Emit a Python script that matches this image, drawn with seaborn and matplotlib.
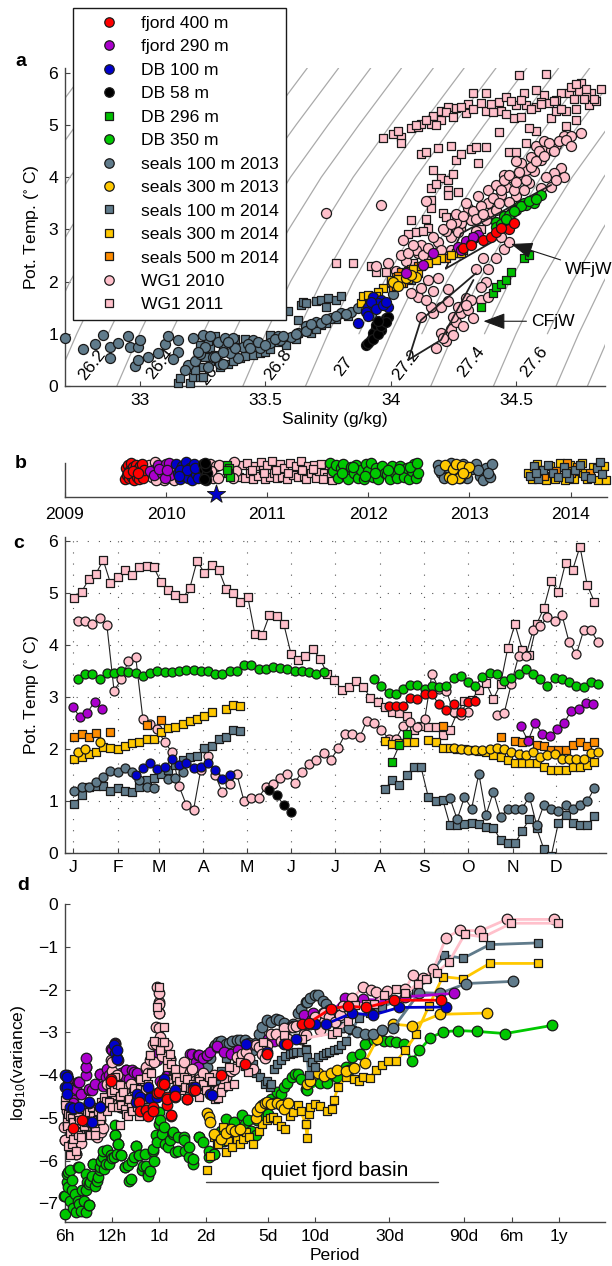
import numpy as np
import matplotlib
matplotlib.use('Agg')
import matplotlib.pyplot as plt
from matplotlib.lines import Line2D
import seaborn as sns

sns.set_theme(style='ticks')
plt.rcParams['font.family'] = ['Liberation Sans', 'DejaVu Sans']
plt.rcParams['mathtext.default'] = 'regular'
plt.rcParams['text.color'] = 'black'
plt.rcParams['axes.labelcolor'] = 'black'
plt.rcParams['axes.edgecolor'] = '#444444'
plt.rcParams['axes.linewidth'] = 1.0
plt.rcParams['xtick.color'] = '#444444'
plt.rcParams['ytick.color'] = '#444444'
plt.rcParams['xtick.labelcolor'] = 'black'
plt.rcParams['ytick.labelcolor'] = 'black'

W, H = 612, 1266
FS = 12.6

# series names, in legend order
names = ['fjord 400 m', 'fjord 290 m', 'DB 100 m', 'DB 58 m', 'DB 296 m', 'DB 350 m',
         'seals 100 m 2013', 'seals 300 m 2013', 'seals 100 m 2014', 'seals 300 m 2014',
         'seals 500 m 2014', 'WG1 2010', 'WG1 2011']
colors = ['#ff0000', '#aa00cc', '#0000cc', '#000000', '#00c000', '#00c800',
          '#607b8b', '#ffc800', '#607b8b', '#ffc800',
          '#ff8c00', '#ffc0cb', '#ffc0cb']
markers = ['o', 'o', 'o', 'o', 's', 'o', 'o', 'o', 's', 's', 's', 'o', 's']

# ---- panel a, salinity / temperature
a_sal = {}
a_tmp = {}
a_sal['WG1 2011'] = [33.97, 34.01, 34.04, 34.04, 34.08, 34.11, 34.12, 34.17, 34.16, 34.20, 34.23, 34.20, 34.26, 34.31,
                     34.30, 34.33, 34.38, 34.38, 34.40, 34.43, 34.44, 34.46, 34.49, 34.50, 34.51, 34.53, 34.54, 34.58,
                     34.58, 34.62, 34.61, 34.63, 34.64, 34.68, 34.66, 34.71, 34.70, 34.76, 34.75, 34.74, 34.80, 34.84,
                     34.79, 34.74, 34.70, 34.58, 34.55, 34.43, 34.12, 34.14, 34.19, 34.24, 34.32, 34.34, 34.38, 34.47,
                     34.50, 34.54, 34.26, 34.28, 34.35, 34.17, 34.20, 34.23, 34.25, 34.16, 34.18, 34.23, 34.27, 34.23,
                     34.16, 34.16, 34.21, 34.22, 34.08, 34.14, 34.15, 34.10, 34.07, 34.13, 34.23, 33.78, 33.85, 33.92,
                     33.94, 33.98, 34.09, 34.19, 34.28, 34.24, 34.36, 34.33, 34.72, 34.78, 34.82, 34.66, 34.60, 34.52,
                     34.03, 34.10, 34.14, 34.18, 34.22, 34.25, 34.28, 34.33, 34.36, 34.41, 34.46, 34.48, 34.52, 34.56,
                     34.60, 34.65, 34.68, 34.73, 34.77, 34.81, 34.78, 34.74]
a_tmp['WG1 2011'] = [4.74, 4.83, 4.76, 4.65, 4.94, 4.96, 5.02, 5.17, 5.02, 5.27, 5.35, 5.10, 5.32, 5.41,
                     5.22, 5.62, 5.61, 5.27, 5.40, 5.43, 5.26, 5.54, 5.14, 5.38, 5.95, 5.62, 5.38, 5.66,
                     5.35, 5.97, 5.57, 5.42, 5.13, 5.61, 5.26, 5.62, 5.26, 5.80, 5.64, 5.30, 5.61, 5.68,
                     5.38, 5.10, 4.97, 4.89, 4.94, 4.87, 4.44, 4.49, 4.55, 4.60, 4.54, 4.58, 4.57, 4.49,
                     4.49, 4.65, 4.33, 4.44, 4.28, 4.13, 3.98, 3.95, 4.06, 3.79, 3.86, 3.75, 3.72, 3.66,
                     3.56, 3.40, 3.31, 3.24, 3.18, 3.20, 3.02, 2.94, 2.92, 2.96, 2.96, 2.35, 2.36, 2.29,
                     2.19, 2.19, 2.35, 2.48, 3.05, 3.10, 3.00, 2.85, 5.72, 5.55, 5.45, 5.47, 5.44, 5.48,
                     4.88, 5.00, 5.10, 5.00, 5.25, 5.15, 5.35, 5.30, 5.42, 5.25, 5.20, 5.45, 5.15, 5.30,
                     5.40, 5.45, 5.30, 5.50, 5.50, 5.50, 5.68, 5.78]
a_sal['WG1 2010'] = [33.74, 33.96, 34.18, 34.22, 34.20, 34.24, 34.26, 34.25, 34.28, 34.31, 34.27, 34.30, 34.36, 34.32,
                     34.39, 34.12, 34.17, 34.20, 34.23, 34.16, 34.11, 34.14, 34.08, 34.12, 34.17, 34.23, 34.19, 34.15,
                     34.34, 34.39, 34.38, 34.42, 34.37, 34.45, 34.47, 34.44, 33.99, 33.94, 34.06, 34.11, 34.05, 34.19,
                     34.12, 34.14, 34.24, 34.28, 34.32, 34.35, 34.31, 34.39, 34.40, 34.39, 34.42, 34.45, 34.48, 34.52,
                     34.46, 34.50, 34.55, 34.57, 34.54, 34.52, 34.56, 34.60, 34.62, 34.64, 34.66, 34.69, 34.72, 34.76,
                     34.68, 34.65, 34.69, 34.64, 34.47, 34.42, 34.38, 34.34, 34.26, 34.22, 34.14, 34.21, 34.25, 34.29,
                     34.33, 34.36, 34.30, 34.24, 34.18, 34.10, 34.58, 34.61, 34.50, 34.44,
                     34.02, 34.04, 34.07, 34.09, 34.13, 34.15, 34.17, 34.20, 34.21, 34.24, 34.26, 34.27, 34.29, 34.30,
                     34.33, 34.34, 34.36, 34.37, 34.41, 34.43, 34.44, 34.45, 34.47, 34.49, 34.50, 34.51, 34.53, 34.54,
                     34.56, 34.58, 34.59, 34.61, 34.63, 34.65, 34.67, 34.70, 34.72, 34.62, 34.66, 34.60]
a_tmp['WG1 2010'] = [3.32, 3.47, 0.73, 0.87, 1.01, 1.10, 1.23, 1.33, 1.39, 1.46, 1.52, 1.68, 1.65, 1.65,
                     1.71, 1.33, 1.39, 1.52, 1.62, 1.52, 1.71, 1.65, 1.78, 1.87, 1.81, 1.85, 2.06, 2.03,
                     2.25, 2.25, 2.00, 2.46, 2.45, 2.62, 2.76, 2.86, 2.35, 2.30, 2.40, 2.54, 2.80, 2.76,
                     2.70, 2.41, 2.86, 3.12, 3.18, 3.63, 3.40, 3.50, 3.31, 3.75, 3.85, 4.04, 4.00, 3.98,
                     3.81, 3.63, 3.88, 4.11, 4.14, 4.27, 4.39, 4.33, 4.55, 4.52, 4.62, 4.78, 4.79, 4.84,
                     4.17, 4.07, 4.01, 3.82, 3.53, 3.37, 3.18, 2.96, 3.15, 2.96, 3.54, 0.92, 0.98, 1.15,
                     1.30, 1.90, 1.55, 2.60, 2.55, 2.60, 4.60, 4.70, 4.30, 3.65,
                     2.20, 2.50, 2.55, 2.70, 2.50, 2.65, 2.85, 2.60, 3.00, 3.10, 3.30, 2.95, 3.25, 3.50,
                     3.35, 3.20, 3.45, 3.30, 3.60, 3.50, 3.75, 3.95, 4.05, 3.75, 3.90, 4.10, 3.75, 3.95,
                     4.20, 4.30, 4.50, 4.40, 4.65, 4.50, 4.70, 4.72, 4.60, 4.00, 3.95, 3.80]
a_sal['seals 100 m 2013'] = [32.70, 32.77, 32.82, 32.85, 32.88, 32.91, 32.88, 32.95, 32.96, 32.99, 33.00, 32.98, 32.99,
                             33.03, 33.07, 33.10, 33.11, 33.15, 33.15, 33.13, 33.21, 33.19, 33.22, 33.25, 33.31, 33.34,
                             33.37, 33.39, 33.36, 33.41, 33.45, 33.52, 33.56, 33.60, 33.66, 33.27, 33.32, 33.66, 33.70,
                             33.76, 33.80, 33.84, 33.87, 33.92, 34.01, 33.18, 33.24, 33.29, 33.43, 33.48, 33.55, 33.63,
                             33.30, 33.33, 33.38, 33.44, 33.47, 33.50, 33.54, 33.57, 33.62, 33.66, 33.68, 33.72, 33.74, 33.78,
                             33.82, 33.26, 33.28, 33.35, 33.23, 33.33]
a_tmp['seals 100 m 2013'] = [0.91, 0.70, 0.80, 0.98, 0.75, 0.82, 0.53, 0.95, 0.74, 0.75, 0.89, 0.38, 0.50,
                             0.56, 0.64, 0.80, 0.95, 0.88, 0.66, 0.51, 0.91, 0.40, 0.47, 0.98, 0.85, 0.91,
                             0.91, 0.53, 0.63, 0.75, 0.88, 0.82, 0.88, 0.93, 1.14, 0.37, 0.42, 1.14, 1.23,
                             1.30, 1.39, 1.42, 1.49, 1.36, 1.77, 0.30, 0.62, 0.55, 0.80, 0.72, 0.95, 1.02,
                             0.55, 0.65, 0.72, 0.72, 0.85, 0.78, 0.90, 0.95, 1.00, 1.05, 1.18, 1.20, 1.28, 1.35,
                             1.38, 0.75, 0.95, 0.85, 0.65, 0.42]
a_sal['seals 100 m 2014'] = [33.15, 33.16, 33.20, 33.21, 33.24, 33.25, 33.25, 33.28, 33.28, 33.24, 33.27, 33.32, 33.35,
                             33.37, 33.40, 33.45, 33.48, 33.50, 33.52, 33.55, 33.59, 33.63, 33.63, 33.64, 33.65, 33.66,
                             33.70, 33.72, 33.75, 33.78, 33.80, 33.74, 33.68, 33.72, 33.76, 34.08, 34.00, 33.30, 33.42,
                             33.42, 33.52, 33.58, 33.62, 33.66, 33.70, 33.74, 33.78, 33.30, 33.33, 33.38, 33.46, 33.26, 33.22, 33.83]
a_tmp['seals 100 m 2014'] = [0.05, 0.16, 0.06, 0.18, 0.18, 0.18, 0.37, 0.47, 0.72, 0.79, 0.87, 0.37, 0.43,
                             0.47, 0.53, 0.59, 0.63, 0.66, 0.98, 0.85, 1.44, 1.26, 1.01, 1.55, 1.60, 1.58,
                             1.62, 1.65, 1.68, 1.65, 1.73, 1.51, 1.01, 1.17, 1.30, 2.03, 1.97, 0.60, 0.90,
                             0.58, 0.70, 0.78, 0.90, 1.05, 1.10, 1.20, 1.28, 0.95, 0.80, 0.90, 0.82, 0.55, 0.30, 1.35]
a_sal['seals 300 m 2014'] = [33.90, 33.88, 33.92, 33.97, 34.00, 34.04, 34.06, 34.11, 34.20, 34.26, 34.33, 34.29, 33.95, 34.02,
                             33.89, 33.91, 33.94, 34.03, 34.07, 34.09, 34.12, 34.15, 34.18, 34.24, 34.31, 34.28]
a_tmp['seals 300 m 2014'] = [1.65, 1.58, 1.50, 1.87, 2.03, 1.97, 2.16, 2.16, 2.45, 2.54, 2.83, 2.60, 1.80, 1.92,
                             1.72, 1.75, 1.72, 2.05, 2.05, 2.25, 2.30, 2.35, 2.42, 2.50, 2.72, 2.55]
a_sal['seals 500 m 2014'] = [34.02, 34.04, 34.08, 34.22, 34.05, 34.01, 34.10, 34.24, 34.00, 34.03, 34.06, 34.07, 34.11, 34.02, 34.26]
a_tmp['seals 500 m 2014'] = [2.09, 2.19, 2.25, 2.45, 1.97, 1.90, 2.20, 2.50, 2.00, 2.10, 2.10, 2.20, 2.30, 1.93, 2.55]
a_sal['seals 300 m 2013'] = [34.01, 34.06, 34.10, 34.03, 33.90, 33.93, 34.08]
a_tmp['seals 300 m 2013'] = [2.00, 2.06, 2.09, 1.92, 1.45, 1.62, 2.12]
a_sal['DB 296 m'] = [34.36, 34.41, 34.42, 34.44, 34.46, 34.48, 34.53, 34.55]
a_tmp['DB 296 m'] = [1.52, 1.79, 1.90, 1.95, 2.03, 2.19, 2.46, 2.51]
a_sal['DB 350 m'] = [34.42, 34.45, 34.51, 34.53, 34.56, 34.60, 34.48, 34.42, 34.54, 34.57, 34.50, 34.47,
                     34.44, 34.46, 34.52, 34.55, 34.58, 34.49]
a_tmp['DB 350 m'] = [3.15, 3.26, 3.44, 3.50, 3.53, 3.66, 3.31, 3.05, 3.47, 3.50, 3.38, 3.28,
                     3.10, 3.20, 3.45, 3.55, 3.58, 3.35]
a_sal['DB 58 m'] = [33.90, 33.92, 33.93, 33.94, 33.96, 33.98, 33.99, 33.93, 33.94, 33.97, 33.91, 33.93, 33.95, 33.96, 33.98, 33.95]
a_tmp['DB 58 m'] = [0.79, 0.88, 0.95, 1.12, 1.07, 1.30, 1.33, 1.02, 1.17, 1.20, 0.82, 0.90, 1.00, 1.15, 1.22, 1.25]
a_sal['DB 100 m'] = [33.87, 33.91, 33.93, 33.90, 33.96, 33.99, 33.95, 33.92, 33.94, 33.97, 33.91, 33.98]
a_tmp['DB 100 m'] = [1.21, 1.52, 1.70, 1.42, 1.65, 1.51, 1.58, 1.60, 1.48, 1.55, 1.35, 1.60]
a_sal['fjord 290 m'] = [34.06, 34.13, 34.27, 34.30, 34.32, 34.35, 34.28, 34.33, 34.17]
a_tmp['fjord 290 m'] = [2.16, 2.32, 2.67, 2.78, 2.72, 2.89, 2.60, 2.85, 2.55]
a_sal['fjord 400 m'] = [34.29, 34.32, 34.37, 34.40, 34.42, 34.47, 34.49, 34.44]
a_tmp['fjord 400 m'] = [2.64, 2.70, 2.80, 2.86, 2.94, 3.01, 3.12, 3.02]

# long jumps in the WG1 2010 line
jump_sal = [34.07, 34.12, 34.34, np.nan, 34.07, 34.20, 34.33, np.nan, 34.22, 34.42, np.nan, 34.22, 34.28, 34.64]
jump_tmp = [0.50, 1.26, 2.16, np.nan, 0.50, 0.88, 2.03, np.nan, 2.25, 2.80, np.nan, 2.25, 2.92, 3.85]

# isopycnals: salinity where each crosses 0 deg, and how far it leans with temperature
iso_level = ['25.5', '25.6', '25.7', '25.8', '25.9', '26', '26.1', '26.2', '26.3', '26.4', '26.5', '26.6', '26.7',
             '26.8', '26.9', '27', '27.1', '27.2', '27.3', '27.4', '27.5', '27.6', '27.7', '27.8']
iso_sal0 = [31.90, 32.03, 32.155, 32.28, 32.41, 32.53, 32.657, 32.782, 32.907, 33.032, 33.16, 33.283, 33.41,
            33.533, 33.66, 33.783, 33.91, 34.034, 34.16, 34.284, 34.41, 34.535, 34.66, 34.785]
iso_tmp = [0, 1, 2, 3, 4, 5, 6.09]
iso_lean = [0, 0.09, 0.19, 0.31, 0.44, 0.59, 0.76]
iso_lab = ['26.2', '26.4', '26.6', '26.8', '27', '27.2', '27.4', '27.6']
iso_lab_sal = [32.81, 33.08, 33.29, 33.55, 33.81, 34.06, 34.32, 34.57]
iso_lab_tmp = [0.40, 0.43, 0.31, 0.40, 0.37, 0.40, 0.47, 0.47]

# ---- panel b, time coverage
b_yr = {}
b_y = {}
b_yr['fjord 400 m'] = [2009.59, 2009.60, 2009.61, 2009.62, 2009.63, 2009.64, 2009.65, 2009.66, 2009.67, 2009.68, 2009.69, 2009.70,
                       2009.71, 2009.72, 2009.73, 2009.74, 2009.75, 2009.76, 2009.77, 2009.78, 2009.62, 2009.67, 2009.72]
b_y['fjord 400 m'] = [0.52, 0.85, 0.65, 0.95, 0.55, 0.78, 1.00, 0.60, 0.88, 0.50, 0.72, 0.95,
                      0.58, 0.82, 0.52, 0.90, 0.68, 0.97, 0.55, 0.78, 0.70, 0.75, 0.70]
b_yr['WG1 2010'] = [2009.83, 2009.86, 2009.89, 2009.92, 2009.95, 2009.98, 2010.02, 2010.05, 2009.88, 2009.94, 2010.08, 2009.90,
                    2010.27, 2010.43, 2010.46, 2010.49, 2010.52, 2010.44, 2010.51, 2010.67, 2010.69, 2010.66, 2009.99, 2010.13]
b_y['WG1 2010'] = [0.95, 0.60, 1.02, 0.52, 0.90, 0.50, 0.98, 0.55, 0.80, 0.75, 0.50, 0.50,
                   0.75, 0.98, 0.55, 0.90, 0.95, 0.75, 0.55, 1.02, 0.75, 0.55, 0.72, 0.70]
b_yr['fjord 290 m'] = [2009.84, 2009.88, 2009.92, 2009.96, 2010.00, 2010.03, 2010.04, 2009.93, 2009.99, 2010.01]
b_y['fjord 290 m'] = [0.75, 0.65, 0.95, 0.70, 0.98, 1.00, 0.65, 0.82, 0.55, 0.80]
b_yr['DB 100 m'] = [2010.10, 2010.12, 2010.14, 2010.16, 2010.18, 2010.20, 2010.22, 2010.24, 2010.26, 2010.28, 2010.30, 2010.32, 2010.14, 2010.21, 2010.29, 2010.13]
b_y['DB 100 m'] = [0.98, 0.70, 0.52, 0.90, 0.62, 1.02, 0.55, 0.85, 0.50, 0.98, 0.68, 0.55, 0.80, 0.78, 0.85, 0.62]
b_yr['DB 58 m'] = [2010.36, 2010.37, 2010.38, 2010.39, 2010.40, 2010.39, 2010.38, 2010.37]
b_y['DB 58 m'] = [0.98, 0.78, 0.60, 0.50, 0.70, 0.88, 1.00, 0.52]
b_yr['DB 296 m'] = [2010.60, 2010.62, 2010.61, 2010.63, 2010.60]
b_y['DB 296 m'] = [0.95, 0.85, 0.70, 0.58, 0.78]
b_yr['WG1 2011'] = [2010.72, 2010.75, 2010.78, 2010.80, 2010.83, 2010.86, 2010.88, 2010.91, 2010.94, 2010.96, 2010.98, 2011.00,
                    2011.03, 2011.05, 2011.07, 2011.10, 2011.13, 2011.15, 2011.17, 2011.20, 2011.23, 2011.25, 2011.28, 2011.30,
                    2011.33, 2011.36, 2011.38, 2011.40, 2011.43, 2011.46, 2011.48, 2011.51, 2011.53, 2011.56, 2011.59, 2011.61,
                    2011.64, 2010.85, 2010.97, 2011.09, 2011.21, 2011.34, 2011.45, 2011.55, 2011.63]
b_y['WG1 2011'] = [0.60, 0.95, 0.55, 1.00, 0.72, 0.52, 0.92, 0.62, 1.02, 0.78, 0.52, 0.95,
                   0.60, 1.05, 0.72, 0.55, 0.98, 0.60, 0.85, 0.52, 1.00, 0.65, 0.90, 0.58,
                   1.05, 0.62, 0.52, 0.90, 0.72, 0.95, 0.55, 0.75, 0.98, 0.70, 0.60, 0.95,
                   0.50, 0.80, 0.70, 0.80, 0.72, 0.80, 0.82, 0.52, 0.70]
b_yr['DB 350 m'] = [2011.62, 2011.65, 2011.68, 2011.70, 2011.73, 2011.75, 2011.78, 2011.80, 2011.83, 2011.86, 2011.88, 2011.90,
                    2011.93, 2011.96, 2011.98, 2012.00, 2012.03, 2012.05, 2012.08, 2012.10, 2012.13, 2012.16, 2012.18, 2012.21,
                    2012.23, 2012.26, 2012.28, 2012.31, 2012.33, 2012.35, 2012.38, 2012.40, 2012.43, 2012.45, 2012.47, 2012.49,
                    2011.74, 2011.85, 2011.97, 2012.07, 2012.19, 2012.30, 2012.41, 2012.48]
b_y['DB 350 m'] = [1.00, 0.75, 0.95, 0.55, 0.85, 0.98, 0.62, 0.52, 0.88, 0.70, 0.95, 0.55,
                   0.78, 0.52, 0.98, 0.75, 1.00, 0.58, 0.85, 0.52, 0.92, 0.72, 0.68, 0.52,
                   0.90, 0.70, 0.55, 0.92, 0.78, 0.60, 0.85, 0.52, 0.75, 0.98, 0.55, 0.70,
                   0.72, 0.88, 0.62, 0.72, 0.80, 0.82, 0.88, 1.00]
b_yr['seals 100 m 2013'] = [2012.69, 2012.72, 2012.75, 2012.78, 2012.82, 2012.86, 2012.89, 2012.94, 2012.98, 2013.02, 2013.06, 2013.10,
                            2013.13, 2013.16, 2013.20, 2013.22, 2012.70, 2012.91, 2013.08, 2013.18]
b_y['seals 100 m 2013'] = [0.95, 0.70, 0.55, 0.88, 1.00, 0.60, 0.78, 0.98, 0.55, 0.82, 0.98, 0.62,
                           0.50, 0.85, 0.58, 0.98, 0.80, 0.55, 0.80, 0.72]
b_yr['seals 300 m 2013'] = [2012.76, 2012.80, 2012.84, 2012.87, 2012.90, 2012.93, 2012.97, 2013.00, 2012.83, 2012.94]
b_y['seals 300 m 2013'] = [0.95, 0.60, 0.82, 0.98, 0.55, 0.90, 0.72, 0.88, 0.52, 0.70]
b_yr['seals 100 m 2014'] = [2013.60, 2013.64, 2013.68, 2013.73, 2013.78, 2013.83, 2013.88, 2013.93, 2013.98, 2014.04, 2014.09, 2014.14,
                            2014.20, 2014.26, 2014.31, 2014.29, 2013.66, 2013.95]
b_y['seals 100 m 2014'] = [0.62, 0.90, 0.52, 0.78, 0.95, 0.70, 0.60, 0.88, 0.55, 0.80, 0.95, 0.62,
                           0.55, 0.85, 0.68, 1.03, 0.72, 0.72]
b_yr['seals 300 m 2014'] = [2013.58, 2013.62, 2013.67, 2013.71, 2013.76, 2013.80, 2013.85, 2013.90, 2013.94, 2013.99, 2014.03, 2014.07,
                            2014.11, 2014.16, 2014.22, 2014.27, 2014.33, 2014.35, 2013.70, 2014.12]
b_y['seals 300 m 2014'] = [0.72, 0.52, 0.98, 0.60, 0.50, 0.92, 0.52, 1.00, 0.50, 0.95, 0.52, 0.78,
                           1.00, 0.52, 0.88, 0.50, 0.92, 0.50, 0.78, 0.72]
b_yr['seals 500 m 2014'] = [2013.74, 2013.86, 2013.96, 2014.00, 2014.06, 2014.19]
b_y['seals 500 m 2014'] = [0.62, 0.75, 1.00, 0.70, 0.88, 0.72]
b_order = ['WG1 2011', 'WG1 2010', 'DB 350 m', 'fjord 400 m', 'fjord 290 m', 'DB 100 m', 'DB 58 m', 'DB 296 m',
           'seals 100 m 2013', 'seals 300 m 2013', 'seals 300 m 2014', 'seals 500 m 2014', 'seals 100 m 2014']
star_year = 2010.49
year_ticks = [2009, 2010, 2011, 2012, 2013, 2014]

# ---- panel c, pentad of year / temperature
c_k = {}
c_t = {}
c_off = {'WG1 2010': 0.5, 'DB 350 m': 0.5, 'seals 300 m 2013': 0.5, 'fjord 400 m': 0.5, 'DB 100 m': 0.5, 'fjord 290 m': -0.2}
c_k['WG1 2011'] = [*range(0, 73)]
c_t['WG1 2011'] = [4.90, 5.02, 5.26, 5.37, 5.63, 5.19, 5.31, 5.44, 5.35, 5.49,
                   5.52, 5.49, 5.21, 5.06, 4.97, 4.90, 5.10, 5.62, 5.38, 5.53,
                   5.44, 5.08, 4.99, 4.83, 4.93, 4.21, 4.19, 4.57, 4.56, 4.40,
                   3.83, 3.71, 3.78, 3.92, 3.74, 3.45, 3.33, 3.14, 3.20, 3.30,
                   3.20, 2.98, 2.90, 2.80, 2.72, 2.69, 2.64, 2.37, 2.45, 2.43,
                   2.43, 2.27, 2.37, 2.70, 2.93, 2.95, 3.14, 3.28, 2.96, 3.25,
                   3.94, 4.40, 3.91, 3.80, 4.40, 4.71, 5.23, 5.01, 5.58, 5.45,
                   5.89, 5.15, 4.83]
c_k['WG1 2010'] = [*range(0, 55), *range(58, 73)]
c_t['WG1 2010'] = [4.46, 4.46, 4.40, 4.51, 4.39, 3.12, 3.34, 3.70, 3.77, 2.57,
                   2.48, 2.39, 2.13, 1.95, 1.29, 0.93, 0.83, 1.60, 1.86, 1.50,
                   1.17, 1.33, 1.52, 1.00, 1.07, 1.07, 1.27, 1.34, 1.44, 1.52,
                   1.35, 1.56, 1.71, 1.79, 1.93, 1.79, 2.02, 2.29, 2.30, 2.23,
                   2.55, 2.51, 2.37, 2.20, 2.19, 2.45, 2.52, 2.43, 2.57, 3.45,
                   3.15, 3.12, 2.72, 2.66, 2.71,
                   2.66, 2.69, 3.26, 3.79, 3.79, 4.28, 4.37, 4.53, 4.47, 4.58, 4.05, 3.82, 4.28, 4.28, 4.06]
c_k['seals 100 m 2014'] = [*range(0, 24), *range(43, 73)]
c_t['seals 100 m 2014'] = [0.94, 1.12, 1.27, 1.29, 1.29, 1.20, 1.25, 1.20, 1.18, 1.28, 1.40, 1.44, 1.52, 1.60, 1.70, 1.79,
                           1.84, 1.86, 2.02, 2.07, 2.20, 2.23, 2.36, 2.34,
                           1.23, 1.41, 1.31, 1.50, 1.66, 1.65, 1.08, 1.01, 1.03, 0.54, 0.55, 0.56, 0.59, 0.57, 0.51, 0.49,
                           0.26, 0.19, 0.19, 0.43, 0.66, 0.48, 0.08, -0.06, 0.58, 0.73, 0.59, 0.54, 0.54, 0.72]
c_k['seals 300 m 2014'] = [*range(0, 20), *range(21, 24), *range(43, 48), *range(49, 73)]
c_t['seals 300 m 2014'] = [1.81, 1.85, 1.91, 1.95, 2.05, 2.02, 2.00, 2.07, 2.11, 2.14, 2.20, 2.20, 2.32, 2.40, 2.43, 2.49,
                           2.54, 2.57, 2.64, 2.71, 2.77, 2.84, 2.83, 2.15, 2.09, 2.11, 2.14, 2.14,
                           2.18, 2.14, 2.02, 2.02, 2.01, 2.00, 1.98, 1.97, 1.94, 1.89, 1.85, 1.79, 1.74, 1.73, 1.74, 1.73,
                           1.66, 1.60, 1.60, 1.60, 1.65, 1.66, 1.70, 1.75]
c_k['seals 500 m 2014'] = [0, 1, 2, 3, 5, 10, 12, 51, 59, 61, 62, 63, 64, 65, 66, 67, 68, 69, 70, 71, 72]
c_t['seals 500 m 2014'] = [2.23, 2.29, 2.24, 2.31, 2.32, 2.46, 2.56, 2.45, 2.24, 2.15, 2.14, 2.17, 2.08, 2.06, 1.98, 1.98, 1.99,
                           2.08, 2.13, 2.07, 2.13]
c_k['seals 100 m 2013'] = [*range(0, 12), 13, 14, 15, *range(52, 73)]
c_t['seals 100 m 2013'] = [1.20, 1.27, 1.28, 1.36, 1.46, 1.59, 1.56, 1.63, 1.56, 1.40, 1.27, 1.26, 1.43, 1.44, 1.56,
                           1.06, 0.65, 1.08, 0.86, 1.53, 0.74, 1.18, 0.70, 0.85, 0.86, 0.86, 1.09, 0.54, 0.93, 0.85, 0.81,
                           0.93, 0.85, 0.92, 1.00, 1.25]
c_k['seals 300 m 2013'] = [0, 1, 3, *range(52, 73)]
c_t['seals 300 m 2013'] = [1.95, 2.00, 2.13, 2.02, 2.00, 1.98, 1.98, 1.98, 2.00, 2.03, 2.00, 1.94, 1.91, 1.88, 1.95, 1.84, 1.88,
                           1.90, 1.81, 1.81, 1.82, 1.82, 1.93, 1.95]
c_k['DB 296 m'] = [44, 45, 46]
c_t['DB 296 m'] = [1.76, 2.08, 2.29]
c_k['DB 350 m'] = [*range(0, 35), *range(41, 73)]
c_t['DB 350 m'] = [3.35, 3.44, 3.45, 3.35, 3.47, 3.47, 3.50, 3.49, 3.46, 3.40,
                   3.47, 3.50, 3.49, 3.49, 3.51, 3.52, 3.52, 3.50, 3.50, 3.45,
                   3.44, 3.50, 3.50, 3.62, 3.61, 3.54, 3.53, 3.57, 3.55, 3.53,
                   3.51, 3.50, 3.48, 3.45, 3.48,
                   3.34, 3.22, 3.07, 3.05, 3.16, 3.23, 3.24, 3.15, 3.21, 3.19, 3.21, 3.36, 3.41, 3.29, 3.21, 3.39,
                   3.47, 3.44, 3.30, 3.36, 3.44, 3.53, 3.44, 3.34, 3.22, 3.36, 3.34, 3.29, 3.21, 3.19, 3.29, 3.25]
c_k['DB 100 m'] = [*range(8, 22)]
c_t['DB 100 m'] = [1.50, 1.64, 1.73, 1.61, 1.65, 1.81, 1.70, 1.73, 1.64, 1.65, 1.73, 1.60, 1.43, 1.50]
c_k['DB 58 m'] = [27, 28, 29, 30]
c_t['DB 58 m'] = [1.22, 1.11, 0.93, 0.79]
c_k['fjord 290 m'] = [*range(0, 5), *range(62, 73)]
c_t['fjord 290 m'] = [2.81, 2.61, 2.70, 2.91, 2.77, 2.44, 2.16, 2.50, 2.30, 2.26, 2.38, 2.50, 2.74, 2.78, 2.88, 2.87]
c_k['fjord 400 m'] = [*range(43, 56)]
c_t['fjord 400 m'] = [2.82, 2.82, 2.82, 2.99, 2.97, 3.05, 3.05, 2.86, 2.75, 2.87, 2.72, 2.90, 2.93]
c_order = ['WG1 2011', 'WG1 2010', 'seals 100 m 2014', 'seals 300 m 2014', 'seals 500 m 2014', 'seals 100 m 2013',
           'seals 300 m 2013', 'DB 296 m', 'DB 350 m', 'DB 100 m', 'DB 58 m', 'fjord 290 m', 'fjord 400 m']
month_labels = ['J', 'F', 'M', 'A', 'M', 'J', 'J', 'A', 'S', 'O', 'N', 'D']
month_start = [1, 32, 60, 91, 121, 152, 182, 213, 244, 274, 305, 335]

# ---- panel d, log10 period in days / log10 variance
d_lp = {}
d_v = {}
d_lp['DB 350 m'] = [-.61, -.60, -.59, -.58, -.57, -.56, -.53, -.52, -.51, -.50, -.47, -.47, -.45, -.44, -.42, -.41, -.39, -.38, -.36,
                    -.32, -.29, -.28, -.28, -.26, -.24, -.22, -.18, -.16, -.15, -.13, -.10, -.07, -.04, -.015, .00, .03, .06, .09,
                    .12, .16, .19, .22, .26, .32, .35, .38, .43, .46, .53, .57, .62, .66, .70, .76, .80, .85, .89, .94, .95, 1.03,
                    1.08, 1.14, 1.20, 1.22, 1.24, 1.29, 1.32, 1.38, 1.44, 1.48, 1.52, 1.57, 1.62, 1.67, 1.74, 1.82, 1.92, 2.04, 2.22, 2.52,
                    -.59, -.58, -.60, -.57, -.54, -.52, -.49, -.51, -.45, -.47, -.45, -.42, -.40, -.38, -.36, -.34, -.31, -.28, -.26, -.24,
                    -.22, -.19, -.15, -.13, -.11, -.08, -.07, -.04, -.03, -.00, .02, .04, .07, .10, .09, .12, .16, .17, .19, .22, .26, .28,
                    .32, .35, .37, .40, .42, .48, .50, .55, .59, .63, .65, .68, .72, .74, .78, .82, .87, .91,
                    -.56, -.55, -.48, -.46, -.43, -.37, -.35, -.33, -.30, -.27, -.20, -.17, -.09, -.06, -.02, .01]
d_v['DB 350 m'] = [-6.82, -7.25, -6.51, -6.27, -6.23, -6.70, -7.21, -6.94, -6.16, -7.17, -7.21, -6.70, -7.05, -6.51, -6.08, -6.59, -6.39, -6.16, -5.92,
                   -6.08, -5.92, -5.41, -5.18, -5.61, -5.88, -6.16, -6.43, -5.92, -5.65, -5.88, -6.12, -6.31, -5.77, -5.57, -4.87, -5.22, -5.69, -5.38,
                   -5.77, -5.45, -5.69, -6.08, -5.45, -5.92, -5.84, -5.38, -5.02, -5.30, -4.94, -5.06, -5.41, -4.71, -4.91, -4.40, -4.28, -4.05, -3.97, -4.32, -4.36, -4.18,
                   -4.18, -4.05, -3.81, -3.89, -3.58, -3.50, -3.27, -3.17, -3.20, -3.20, -3.23, -3.27, -3.67, -3.42, -3.13, -2.99, -2.96, -2.98, -3.03, -2.84,
                   -6.31, -6.63, -6.82, -6.94, -6.78, -6.16, -6.70, -7.02, -7.05, -6.31, -6.55, -6.08, -6.47, -6.23, -5.77, -6.08, -5.88, -5.41, -5.61, -5.88,
                   -6.16, -6.47, -5.65, -5.88, -6.23, -6.12, -6.35, -5.73, -6.00, -5.14, -5.38, -5.61, -5.53, -5.80, -5.34, -5.45, -5.53, -5.77, -5.92, -5.96, -5.45, -5.57,
                   -5.77, -5.84, -5.41, -5.30, -5.55, -5.10, -5.35, -5.15, -5.30, -5.05, -4.95, -4.75, -4.55, -4.65, -4.45, -4.18, -3.98, -4.10,
                   -6.45, -7.10, -6.95, -6.50, -6.35, -6.00, -6.20, -5.75, -5.95, -5.85, -6.10, -6.00, -5.85, -6.25, -5.40, -5.05]
d_lp['seals 300 m 2014'] = [.31, .37, .38, .41, .43, .47, .50, .52, .56, .60, .64, .69, .73, .81, .86, .89, .94, .94, .95, .96, .97, 1.00, 1.03,
                            1.08, 1.11, 1.12, 1.15, 1.20, 1.25, 1.28, 1.31, 1.35, 1.39, 1.43, 1.47, 1.52, 1.58, 1.65, 1.73, 1.82, 1.95, 2.12, 2.43,
                            .33, .35, .44, .54, .58, .66, .71, .76, .78, .84, .91]
d_v['seals 300 m 2014'] = [-6.22, -5.61, -5.61, -5.22, -5.80, -5.69, -5.49, -5.61, -5.34, -5.61, -5.30, -5.06, -4.98, -5.26, -4.87, -4.71, -5.14, -5.14, -5.47, -4.91, -4.75, -4.67, -4.73,
                           -4.83, -4.79, -4.59, -4.28, -4.05, -4.10, -4.15, -4.05, -4.07, -3.89, -3.77, -3.68, -3.68, -3.42, -3.04, -2.39, -1.70, -1.75, -1.39, -1.39,
                           -5.90, -5.45, -5.55, -5.50, -5.45, -5.15, -5.00, -5.05, -5.20, -4.95, -4.85]
d_lp['seals 300 m 2013'] = [.31, .32, .35, .40, .46, .52, .65, .69, .72, .76, .80, .95, .97, 1.02, 1.06, 1.10, 1.14, 1.20, 1.25, 1.32, 1.40, 1.50, 1.62, 1.80, 2.10,
                            .33, .43, .49, .62, .63, .68, .78, .83]
d_v['seals 300 m 2013'] = [-4.88, -4.97, -5.38, -5.49, -5.26, -5.26, -4.75, -4.63, -4.67, -4.66, -4.79, -4.20, -4.14, -3.95, -4.02, -3.95, -3.88, -3.91, -3.83, -3.71, -3.15, -2.81, -2.85, -2.58, -2.55,
                           -5.10, -5.35, -5.30, -5.00, -4.85, -4.65, -4.70, -4.65]
d_lp['seals 100 m 2014'] = [.32, .37, .47, .55, .65, .69, .71, .74, .78, .84, .88, .94, .94, .95, .96, 1.00, 1.02, 1.05, 1.09, 1.15, 1.20, 1.24, 1.28, 1.35, 1.43, 1.58, 1.65, 1.72, 1.83, 1.95, 2.12, 2.43,
                            .34, .38, .40, .43, .50, .60, .62, .68, .72, .76, .81, .86, .91, .98, 1.07, 1.12, 1.17]
d_v['seals 100 m 2014'] = [-4.16, -4.20, -3.50, -3.80, -4.05, -4.13, -4.28, -3.85, -3.66, -3.50, -3.46, -3.42, -3.38, -3.58, -4.01, -3.81, -3.58, -3.52, -3.45, -3.38, -3.21, -2.95, -2.66, -2.56, -2.41, -2.17, -2.05, -1.72, -1.20, -1.27, -.95, -.91,
                           -4.05, -4.30, -3.90, -3.60, -3.60, -3.75, -3.95, -4.20, -4.20, -3.75, -3.55, -3.48, -3.45, -3.70, -3.48, -3.42, -3.30]
d_lp['seals 100 m 2013'] = [.31, .35, .38, .43, .50, .55, .60, .64, .69, .77, .84, .89, .94, .95, 1.00, 1.05, 1.09, 1.16, 1.22, 1.27, 1.32, 1.37, 1.43, 1.50, 1.67, 1.80, 1.97, 2.27,
                            .33, .36, .40, .45, .47, .52, .58, .62, .66, .72, .75, .80, .86, .91, .97, 1.02, 1.07, 1.12, 1.18]
d_v['seals 100 m 2013'] = [-3.81, -3.34, -3.23, -3.27, -3.19, -3.17, -3.42, -3.03, -2.72, -2.72, -2.87, -2.56, -2.29, -2.29, -2.13, -2.27, -2.48, -2.87, -2.91, -2.99, -3.05, -3.05, -2.94, -2.91, -2.07, -2.09, -1.86, -1.81,
                           -3.60, -3.30, -3.20, -3.25, -3.20, -3.18, -3.25, -3.25, -2.88, -2.75, -2.70, -2.78, -2.80, -2.45, -2.20, -2.12, -2.35, -2.65, -2.88]
d_lp['fjord 290 m'] = [-.58, -.55, -.53, -.51, -.49, -.47, -.47, -.45, -.41, -.38, -.34, -.31, -.30, -.28, -.26, -.21, -.16, -.12, -.05, -.01, .06, .17, .21, .26, .31, .37, .51, .74, .93, .99, 1.11, 1.19, 1.31, 1.42, 1.58, 1.89,
                       -.59, -.58, -.55, -.52, -.47, -.47, -.45, -.38, -.31, -.28, -.28, -.32, -.21, -.21, -.17, -.05, -.01, .05, .17, .20, .25, .31, .25, .37,
                       -.57, -.50, -.43, -.36, -.33, -.24, -.19, -.14, -.08, -.03, .01, .10, .14, .24, .28, .33, .42, .46, .58, .64, .70, .80, .86, .98, 1.05]
d_v['fjord 290 m'] = [-4.09, -4.65, -4.32, -4.16, -4.85, -3.81, -3.60, -4.34, -4.20, -3.97, -4.05, -4.40, -3.42, -3.25, -3.66, -3.89, -3.93, -4.12, -3.72, -3.50, -4.01, -3.85, -3.50, -3.54, -3.54, -3.33, -3.42, -3.21, -2.60, -2.54, -2.52, -2.21, -2.23, -2.25, -2.17, -2.09,
                      -4.01, -4.09, -4.59, -4.16, -3.81, -4.00, -4.32, -3.97, -3.38, -3.27, -3.50, -4.00, -4.05, -3.89, -3.89, -3.73, -3.66, -4.00, -3.85, -3.50, -3.54, -3.54, -3.81, -3.34,
                      -4.30, -4.45, -4.35, -4.25, -3.85, -3.95, -4.10, -3.95, -3.85, -3.60, -4.15, -4.05, -3.95, -3.70, -3.60, -3.45, -3.45, -3.50, -3.30, -3.35, -3.15, -3.00, -2.85, -2.70, -2.55]
d_lp['WG1 2010'] = [-.61, -.60, -.58, -.56, -.53, -.51, -.49, -.46, -.44, -.41, -.38, -.35, -.33, -.31, -.30, -.28, -.26, -.24, -.21, -.18, -.15, -.11, -.09, -.06, -.04, -.02, .00, .00, .00, -.01, .01, .03, .07, .10,
                    .14, .18, .21, .26, .30, .35, .38, .41, .46, .50, .56, .62, .66, .69, .75, .80, .86, .93, .94, 1.00, 1.06, 1.16, 1.18, 1.24, 1.31, 1.36, 1.39, 1.46, 1.58, 1.63, 1.69, 1.76, 1.84, 1.93, 2.06, 2.23, 2.53,
                    -.60, -.53, -.56, -.42, -.37, -.38, -.51, -.45, -.39, -.31, -.30, -.26, -.25, -.11, -.09, -.00, -.00, -.00, -.02, .07, .14, .20, .27, .14, .09, -.08,
                    -.59, -.55, -.50, -.47, -.43, -.40, -.36, -.34, -.29, -.27, -.22, -.19, -.16, -.13, -.07, -.03, .02, .05, .09, .12, .16, .23, .28, .33, .37, .43, .48, .53, .58, .60, .64, .68, .72, .78, .83, .88, .91, .97, 1.03, 1.09, 1.13]
d_v['WG1 2010'] = [-5.22, -5.53, -5.15, -5.65, -5.84, -5.35, -5.05, -4.91, -5.30, -5.26, -5.05, -4.60, -4.20, -3.66, -3.90, -4.44, -4.30, -4.75, -4.30, -4.20, -4.60, -4.44, -4.13, -3.66, -3.27, -2.87, -2.56, -2.29, -2.09, -1.94, -3.11, -3.30, -3.62, -3.95,
                   -3.89, -4.05, -3.85, -4.09, -4.30, -4.01, -4.35, -4.28, -3.90, -3.58, -3.45, -3.30, -3.50, -3.30, -3.05, -2.91, -2.87, -3.03, -3.07, -2.64, -2.56, -2.60, -2.39, -2.21, -1.94, -2.02, -2.05, -2.03, -1.99, -1.66, -1.74, -1.53, -.79, -.61, -.63, -.36, -.36,
                   -5.53, -5.84, -5.61, -5.38, -5.34, -5.14, -5.22, -5.10, -5.00, -4.24, -3.70, -4.67, -4.75, -4.36, -4.16, -2.33, -2.56, -2.91, -3.27, -3.62, -3.89, -3.93, -4.32, -4.24, -3.85, -3.81,
                   -4.85, -5.20, -5.60, -5.15, -5.00, -5.45, -5.25, -4.70, -4.35, -4.00, -4.55, -4.80, -4.35, -4.65, -3.95, -3.70, -3.55, -3.30, -4.05, -4.20, -3.70, -4.15, -3.95, -4.15, -4.40, -4.05, -3.85, -3.50, -3.60, -3.85, -3.35, -3.60, -3.05, -3.20, -3.15, -2.85, -3.15, -2.80, -2.95, -2.65, -2.75]
d_lp['WG1 2011'] = [-.60, -.59, -.58, -.57, -.57, -.56, -.55, -.53, -.52, -.50, -.48, -.46, -.44, -.42, -.41, -.40, -.38, -.36, -.35, -.33, -.30, -.28, -.27, -.25, -.23, -.20, -.18, -.16, -.14, -.12, -.10, -.08, -.06, -.03, .00, -.01, .03, .02, .05, .07, .10, .13, .17, .22, .26, .32, .38, .45, .48, .52, .57, .67, .80, .92, 1.11, 1.14, 1.21, 1.26, 1.33, 1.38, 1.44, 1.52, 1.58, 1.66, 1.71, 1.78, 1.86, 1.96, 2.08, 2.26, 2.56,
                    -.60, -.57, -.52, -.45, -.37, -.32, -.28, -.25, -.20, -.22, -.25, -.12, -.15, -.55, -.52, -.58, -.41, .03, -.06, .01, .05, .10, .18, .26, .09, .26, -.25,
                    -.59, -.56, -.54, -.51, -.49, -.47, -.43, -.39, -.37, -.34, -.31, -.29, -.26, -.24, -.21, -.19, -.17, -.15, -.13, -.11, -.09, -.07, -.05, .06, .08, .11, .14, .16, .20, .24, .28, .30, .34, .36, .40, .42, .44]
d_v['WG1 2011'] = [-4.59, -5.00, -4.91, -5.35, -5.88, -5.61, -5.10, -5.77, -5.34, -5.45, -5.20, -4.87, -5.40, -4.95, -5.30, -5.05, -5.06, -4.70, -4.52, -4.85, -4.75, -4.05, -4.20, -4.50, -4.40, -4.60, -4.75, -4.30, -4.75, -4.10, -4.55, -4.05, -3.54, -3.20, -1.94, -2.40, -2.87, -3.23, -3.65, -3.50, -3.85, -4.15, -4.28, -4.20, -4.44, -4.05, -4.53, -3.81, -4.20, -3.70, -3.93, -3.23, -3.07, -3.15, -3.03, -2.99, -2.73, -2.37, -2.33, -2.33, -2.13, -1.99, -2.09, -1.86, -1.76, -1.61, -1.35, -.71, -.77, -.45, -.45,
                   -4.71, -4.95, -4.95, -4.87, -4.63, -4.63, -4.09, -4.24, -4.95, -4.79, -4.55, -4.32, -4.59, -5.49, -5.41, -5.65, -5.41, -3.23, -3.54, -3.42, -3.81, -4.00, -4.09, -4.52, -4.44, -4.13, -5.18,
                   -5.20, -5.00, -5.30, -5.05, -4.80, -5.10, -4.75, -4.85, -4.95, -4.60, -4.40, -4.35, -4.75, -4.70, -4.90, -4.55, -4.85, -4.65, -4.95, -4.45, -4.35, -4.20, -3.95, -4.10, -3.75, -4.05, -4.35, -4.05, -4.30, -4.40, -4.20, -4.35, -4.15, -4.55, -4.40, -4.10, -4.25]
d_lp['DB 100 m'] = [-.60, -.59, -.55, -.51, -.45, -.43, -.38, -.28, -.27, -.14, -.06, .03, .10, .22, .33, .56, .69, .80, .88, 1.00, 1.07, 1.24, 1.37, 1.54, 1.84,
                    -.60, -.59, -.57, -.45, -.38, -.44, -.27, -.27, -.29, -.15, -.12, -.06, -.01, -.07, .23, .34, .03, -.55, -.59]
d_v['DB 100 m'] = [-4.28, -4.05, -4.77, -4.75, -4.65, -5.10, -4.75, -3.48, -3.62, -4.44, -4.53, -4.09, -4.36, -4.28, -4.44, -3.27, -3.46, -3.27, -3.15, -2.80, -2.81, -2.55, -2.60, -2.42, -2.41,
                   -4.00, -4.28, -4.75, -4.63, -4.75, -5.10, -3.42, -3.59, -3.30, -4.63, -4.52, -4.52, -4.52, -4.28, -4.28, -4.46, -4.24, -4.79, -4.44]
d_lp['fjord 400 m'] = [-.55, -.31, -.13, -.08, -.04, -.01, .02, .05, .08, .10, .18, .23, .40, .55, .69, .82, .92, .96, 1.10, 1.21, 1.33, 1.51, 1.81,
                       -.12, -.08, -.07, -.04, -.00, .03, .05, .05, .08, .10, .18, .22, -.31, -.49]
d_v['fjord 400 m'] = [-5.23, -4.13, -4.63, -4.81, -4.75, -4.41, -4.20, -4.55, -4.93, -4.52, -4.55, -4.36, -4.01, -3.75, -3.50, -3.27, -2.80, -2.78, -2.45, -2.39, -2.42, -2.25, -2.25,
                      -4.83, -4.81, -4.95, -4.83, -4.40, -4.20, -4.52, -4.71, -4.95, -4.48, -4.55, -4.36, -4.09, -5.06]
d_order = ['DB 350 m', 'seals 300 m 2014', 'seals 300 m 2013', 'seals 100 m 2014', 'seals 100 m 2013', 'fjord 290 m',
           'WG1 2010', 'WG1 2011', 'DB 100 m', 'fjord 400 m']
d_line_from = 0.9  # below this the spectrum is a cloud, the line does not show
period_days = [0.25, 0.5, 1, 2, 5, 10, 30, 90, 182.5, 365]
period_labels = ['6h', '12h', '1d', '2d', '5d', '10d', '30d', '90d', '6m', '1y']
quiet_lp = [0.30, 1.79]
quiet_v = [-6.5, -6.5]

style = {n: (c, m) for n, c, m in zip(names, colors, markers)}


def px_axes(left, top, right, bottom):
    return fig.add_axes([left / W, 1 - bottom / H, (right - left) / W, (bottom - top) / H])


def dots(ax, x, y, name, s_c, s_s, z, clip=False):
    c, m = style[name]
    sns.scatterplot(x=x, y=y, ax=ax, color=c, marker=m, s=s_c if m == 'o' else s_s, edgecolor='k',
                    linewidth=0.9, zorder=z, clip_on=clip, legend=False)


fig = plt.figure(figsize=(W / 100, H / 100), dpi=100)

# panel a
ax_a = px_axes(65, 68, 605, 386)
for lev, s0 in zip(iso_level, iso_sal0):
    # labelled isopycnals only start above their label
    first = 1 if lev in iso_lab else 0
    ax_a.plot(s0 + np.array(iso_lean[first:]), iso_tmp[first:], color='#aaaaaa', lw=0.9, zorder=1)
for lab, s, t in zip(iso_lab, iso_lab_sal, iso_lab_tmp):
    ax_a.text(s, t, lab, rotation=52, ha='center', va='center', fontsize=FS, zorder=2)
a_order = ['WG1 2011', 'WG1 2010', 'seals 100 m 2014', 'seals 100 m 2013', 'seals 500 m 2014', 'seals 300 m 2014',
           'seals 300 m 2013', 'DB 296 m', 'DB 350 m', 'DB 58 m', 'DB 100 m', 'fjord 290 m', 'fjord 400 m']
for i, n in enumerate(a_order):
    dots(ax_a, a_sal[n], a_tmp[n], n, 52, 32, 3 + i * 0.1)
ax_a.plot(jump_sal, jump_tmp, color='#222222', lw=1.3, zorder=3.15)
ax_a.set_xlim(32.7, 34.855)
ax_a.set_ylim(0, 6.09)
ax_a.set_xticks([33, 33.5, 34, 34.5], ['33', '33.5', '34', '34.5'])
ax_a.set_yticks(range(7))
ax_a.set_xlabel('Salinity (g/kg)', fontsize=FS, labelpad=3)
ax_a.set_ylabel(r'Pot. Temp. ($^{\circ}$ C)', fontsize=FS, labelpad=5)
head = '-|>,head_length=0.75,head_width=0.28'
ax_a.annotate('WFjW', xy=(34.48, 2.72), xytext=(34.696, 2.24), fontsize=FS, va='center', zorder=20,
              arrowprops=dict(arrowstyle=head, color='k', lw=0.8, mutation_scale=18, shrinkA=1, shrinkB=0))
ax_a.annotate('CFjW', xy=(34.37, 1.24), xytext=(34.56, 1.24), fontsize=FS, va='center', zorder=20,
              arrowprops=dict(arrowstyle=head, color='k', lw=0.8, mutation_scale=18, shrinkA=1, shrinkB=0))

# legend sits above the axes and hides part of it
handles = [Line2D([], [], linestyle='none', marker=style[n][1], markerfacecolor=style[n][0], markeredgecolor='k',
                  markeredgewidth=0.9, markersize=6.8 if style[n][1] == 'o' else 5.2) for n in names]
leg = ax_a.legend(handles, names, loc='upper left', bbox_to_anchor=(73 / W, 1 - 8 / H), bbox_transform=fig.transFigure,
                  fontsize=FS, frameon=True, fancybox=False, framealpha=1, edgecolor='k', labelspacing=0.47,
                  handlelength=3.26, handletextpad=0.2, borderpad=0.43, borderaxespad=0, numpoints=1, labelcolor='black')
leg.get_frame().set_linewidth(1.0)
leg.set_zorder(30)

# panel b
ax_b = px_axes(65, 463, 607, 497)
for i, n in enumerate(b_order):
    dots(ax_b, b_yr[n], b_y[n], n, 55, 34, 3 + i * 0.1)
sns.scatterplot(x=[star_year], y=[0.1], ax=ax_b, marker='*', s=190, color='#0000cc', edgecolor='k', linewidth=0.7,
                zorder=6, clip_on=False, legend=False)
ax_b.set_xlim(2009, 2014.36)
ax_b.set_ylim(0, 1)
ax_b.set_yticks([])
ax_b.set_xticks(year_ticks, [str(y) for y in year_ticks])

# panel c
ax_c = px_axes(65, 536.7, 606, 853.3)
ax_c.grid(True, color='#555555', lw=0.8, linestyle=(0, (1, 9)))
ax_c.set_axisbelow(True)
for i, n in enumerate(c_order):
    x = np.array(c_k[n], dtype=float) + c_off.get(n, 0)
    y = np.array(c_t[n], dtype=float)
    # break the line where pentads are missing
    brk = np.where(np.diff(c_k[n]) > 1)[0] + 1
    ax_c.plot(np.insert(x, brk, np.nan), np.insert(y, brk, np.nan), color='#222222', lw=0.8, zorder=3 + i * 0.1)
    dots(ax_c, x, y, n, 42, 27, 3 + i * 0.1 + 0.05, clip=True)
ax_c.set_xlim(-1.29, 73.6)
ax_c.set_ylim(0, 6.08)
ax_c.set_xticks([(d - 1) / 5 - 0.14 for d in month_start], month_labels)
ax_c.set_yticks(range(7))
ax_c.set_ylabel(r'Pot. Temp ($^{\circ}$ C)', fontsize=FS, labelpad=5)

# panel d
ax_d = px_axes(65, 904, 605, 1221.7)
ax_d.plot(quiet_lp, quiet_v, color='#444444', lw=1.0, zorder=2)
ax_d.text(1.126, -6.23, 'quiet fjord basin', ha='center', va='center', fontsize=15)
for i, n in enumerate(d_order):
    order = np.argsort(d_lp[n])
    x = np.array(d_lp[n])[order]
    y = np.array(d_v[n])[order]
    ax_d.plot(x[x > d_line_from], y[x > d_line_from], color=style[n][0], lw=2.0, zorder=3 + i * 0.1)
    dots(ax_d, x, y, n, 58, 34, 3 + i * 0.1 + 0.05)
ax_d.set_xlim(np.log10(0.25), np.log10(0.25) + 540 / 156)
ax_d.set_ylim(-7.43, 0)
ax_d.set_xticks(np.log10(period_days), period_labels)
ax_d.set_yticks(range(-7, 1), ['\u22127', '\u22126', '\u22125', '\u22124', '\u22123', '\u22122', '\u22121', '0'])
ax_d.set_xlabel('Period', fontsize=FS, labelpad=3)
ax_d.set_ylabel(r'log$_{10}$(variance)', fontsize=FS, labelpad=7)

for ax in [ax_a, ax_b, ax_c, ax_d]:
    sns.despine(ax=ax)
    ax.tick_params(direction='in', length=3.5, width=0.8, labelsize=FS, pad=5)
    ax.patch.set_alpha(0)
ax_b.tick_params(axis='x', pad=7)

# panel letters
for letter, px, py in [('a', 21, 61), ('b', 21, 463), ('c', 19, 543), ('d', 23, 885)]:
    fig.text(px / W, 1 - py / H, letter, fontsize=14, fontweight='bold', ha='center', va='center')

fig.savefig('out.png', dpi=100)
